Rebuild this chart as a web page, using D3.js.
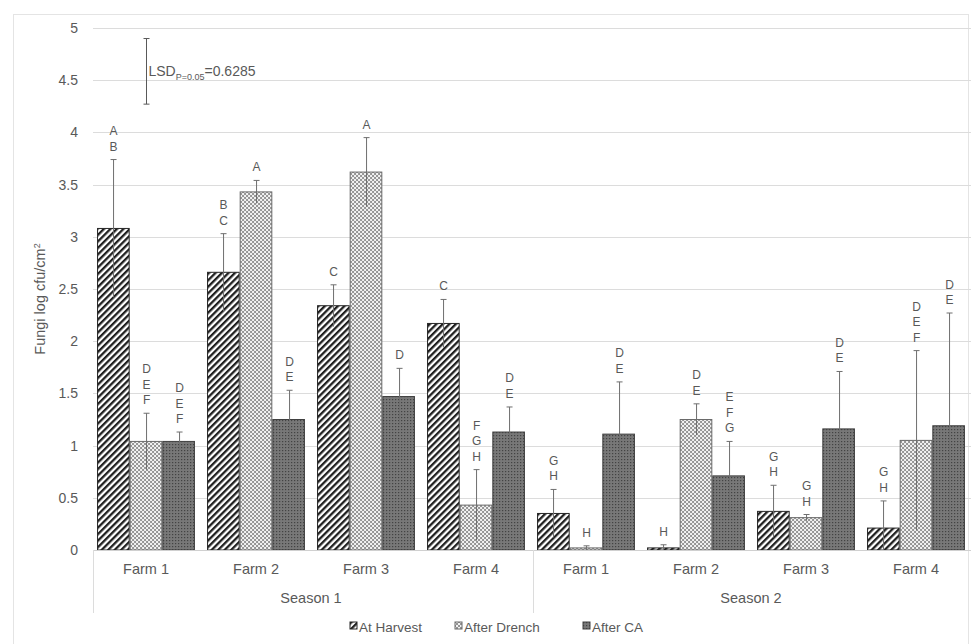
<!DOCTYPE html>
<html>
<head>
<meta charset="utf-8">
<script src="https://cdn.jsdelivr.net/npm/d3@7"></script>
<style>
  body { margin: 0; background: #fff; }
  text { font-family: "Liberation Sans", Arial, sans-serif; fill: #595959; }
</style>
</head>
<body>
<div id="chart"></div>
<script>
// chart data
var farms = ["Farm 1", "Farm 2", "Farm 3", "Farm 4"];
var seasons = ["Season 1", "Season 2"];
var treatments = ["At Harvest", "After Drench", "After CA"];

// means, Season 1 farms 1-4 then Season 2 farms 1-4
var atHarvest = [3.08, 2.66, 2.34, 2.17, 0.35, 0.02, 0.37, 0.21];
var afterDrench = [1.04, 3.43, 3.62, 0.43, 0.02, 1.25, 0.31, 1.05];
var afterCA = [1.04, 1.25, 1.47, 1.13, 1.11, 0.71, 1.16, 1.19];

// error bar half widths
var errHarvest = [0.66, 0.37, 0.20, 0.23, 0.23, 0.03, 0.25, 0.26];
var errDrench = [0.27, 0.11, 0.33, 0.34, 0.02, 0.15, 0.03, 0.86];
var errCA = [0.09, 0.28, 0.27, 0.24, 0.50, 0.33, 0.55, 1.08];

// significance letters
var lettersHarvest = ["AB", "BC", "C", "C", "GH", "H", "GH", "GH"];
var lettersDrench = ["DEF", "A", "A", "FGH", "H", "DE", "GH", "DEF"];
var lettersCA = ["DEF", "DE", "D", "DE", "DE", "EFG", "DE", "DE"];

var yTicks = [0, 0.5, 1, 1.5, 2, 2.5, 3, 3.5, 4, 4.5, 5];
var lsdValue = 0.6285;
var lsdCenter = 4.585;

var svgWidth = 971;
var svgHeight = 644;

var plot = { left: 91, right: 971, top: 28, bottom: 550 };

var svg = d3.select("#chart")
  .append("svg")
  .attr("width", svgWidth)
  .attr("height", svgHeight);

// build the categories (season x farm)
var categories = [];
seasons.forEach(function (s, si) {
  farms.forEach(function (f, fi) {
    var i = si * farms.length + fi;
    categories.push({
      id: i, farm: f, season: s,
      values: [atHarvest[i], afterDrench[i], afterCA[i]],
      errs: [errHarvest[i], errDrench[i], errCA[i]],
      letters: [lettersHarvest[i], lettersDrench[i], lettersCA[i]]
    });
  });
});

// patterns
var defs = svg.append("defs");

var p1 = defs.append("pattern")
  .attr("id", "patHarvest")
  .attr("patternUnits", "userSpaceOnUse")
  .attr("width", 4.6).attr("height", 4.6)
  .attr("patternTransform", "rotate(45)");
p1.append("rect").attr("width", 4.6).attr("height", 4.6).attr("fill", "#fff");
p1.append("rect").attr("width", 2.3).attr("height", 4.6).attr("fill", "#1f1f1f");

var p2 = defs.append("pattern")
  .attr("id", "patDrench")
  .attr("patternUnits", "userSpaceOnUse")
  .attr("width", 4).attr("height", 4);
p2.append("rect").attr("width", 4).attr("height", 4).attr("fill", "#f2f2f2");
p2.append("path").attr("d", "M0,0 L4,4 M4,0 L0,4")
  .attr("stroke", "#8a8a8a").attr("stroke-width", 0.9);

var p3 = defs.append("pattern")
  .attr("id", "patCA")
  .attr("patternUnits", "userSpaceOnUse")
  .attr("width", 3).attr("height", 3);
p3.append("rect").attr("width", 3).attr("height", 3).attr("fill", "#787878");
p3.append("rect").attr("width", 1.2).attr("height", 1.2).attr("fill", "#404040");

var fills = ["url(#patHarvest)", "url(#patDrench)", "url(#patCA)"];
var strokes = ["#262626", "#6a6a6a", "#404040"];

// outer chart frame
svg.append("rect")
  .attr("x", 13.5).attr("y", 14.5)
  .attr("width", 955).attr("height", 640)
  .attr("fill", "none")
  .attr("stroke", "#e4e4e4");

// scales
var x0 = d3.scaleBand()
  .domain(categories.map(function (d) { return d.id; }))
  .range([plot.left, plot.right])
  .paddingInner(0.11)
  .paddingOuter(0.055);

var x1 = d3.scaleBand()
  .domain(d3.range(treatments.length))
  .range([0, x0.bandwidth()]);

var y = d3.scaleLinear()
  .domain([0, 5])
  .range([plot.bottom, plot.top]);

// gridlines
svg.append("g")
  .selectAll("line")
  .data(yTicks.slice(1))
  .enter()
  .append("line")
  .attr("x1", plot.left + 2).attr("x2", plot.right)
  .attr("y1", function (d) { return Math.round(y(d)) + 0.5; })
  .attr("y2", function (d) { return Math.round(y(d)) + 0.5; })
  .attr("stroke", "#dcdcdc");

// y axis labels
var leftAxis = d3.axisLeft(y).tickValues(yTicks).tickFormat(d3.format("~g")).tickSize(0).tickPadding(13);
var yAxisG = svg.append("g")
  .attr("transform", "translate(" + plot.left + ",0)")
  .call(leftAxis);
yAxisG.select(".domain").remove();
yAxisG.selectAll("text")
  .style("font-family", "Liberation Sans, Arial, sans-serif")
  .style("font-size", "14px")
  .attr("fill", "#595959");

// bars
var groups = svg.append("g")
  .selectAll("g")
  .data(categories)
  .enter()
  .append("g")
  .attr("transform", function (d) { return "translate(" + x0(d.id) + ",0)"; });

var items = groups.selectAll("g.item")
  .data(function (d) {
    return d.values.map(function (v, k) {
      return { k: k, v: v, e: d.errs[k], letters: d.letters[k] };
    });
  })
  .enter()
  .append("g")
  .attr("class", "item");

items.append("rect")
  .attr("x", function (d) { return x1(d.k) + 0.5; })
  .attr("y", function (d) { return y(d.v); })
  .attr("width", x1.bandwidth() - 1)
  .attr("height", function (d) { return y(0) - y(d.v); })
  .attr("fill", function (d) { return fills[d.k]; })
  .attr("stroke", function (d) { return strokes[d.k]; })
  .attr("stroke-width", 1);

// error bars
var cx = function (d) { return Math.round(x1(d.k) + x1.bandwidth() / 2) + 0.5; };
items.append("line")
  .attr("x1", cx).attr("x2", cx)
  .attr("y1", function (d) { return y(d.v + d.e); })
  .attr("y2", function (d) { return y(Math.max(0, d.v - d.e)); })
  .attr("stroke", "#6f6f6f");
items.append("line")
  .attr("x1", function (d) { return cx(d) - 3; })
  .attr("x2", function (d) { return cx(d) + 3; })
  .attr("y1", function (d) { return y(d.v + d.e); })
  .attr("y2", function (d) { return y(d.v + d.e); })
  .attr("stroke", "#6f6f6f");

// letters, stacked vertically above the error bar
items.each(function (d) {
  var g = d3.select(this);
  var chars = d.letters.split("");
  var base = y(d.v + d.e) - 9;
  chars.forEach(function (c, j) {
    g.append("text")
      .attr("x", cx(d))
      .attr("y", base - (chars.length - 1 - j) * 15.5)
      .attr("text-anchor", "middle")
      .style("font-size", "12px")
      .text(c);
  });
});

// x axis line
svg.append("line")
  .attr("x1", plot.left + 2).attr("x2", plot.right)
  .attr("y1", plot.bottom + 0.5).attr("y2", plot.bottom + 0.5)
  .attr("stroke", "#d0d0d0");

// season separators
var step = x0.step();
var seasonEdges = [0, farms.length, categories.length].map(function (i) {
  return i < categories.length ? x0(i) - step * 0.055 : plot.right;
});
svg.append("g")
  .selectAll("line")
  .data(seasonEdges)
  .enter()
  .append("line")
  .attr("x1", function (d) { return Math.round(d) + 2.5; })
  .attr("x2", function (d) { return Math.round(d) + 2.5; })
  .attr("y1", plot.bottom)
  .attr("y2", 613)
  .attr("stroke", "#dcdcdc");

// farm labels
svg.append("g")
  .selectAll("text")
  .data(categories)
  .enter()
  .append("text")
  .attr("x", function (d) { return x0(d.id) + x0.bandwidth() / 2; })
  .attr("y", 574)
  .attr("text-anchor", "middle")
  .style("font-size", "14.5px")
  .text(function (d) { return d.farm; });

// season labels
svg.append("g")
  .selectAll("text")
  .data(seasons)
  .enter()
  .append("text")
  .attr("x", function (d, i) { return (seasonEdges[i] + seasonEdges[i + 1]) / 2; })
  .attr("y", 603)
  .attr("text-anchor", "middle")
  .style("font-size", "14.5px")
  .text(function (d) { return d; });

// y axis title
var titleY = (plot.top + plot.bottom) / 2 + 10;
var yTitle = svg.append("text")
  .attr("transform", "translate(45," + titleY + ") rotate(-90)")
  .attr("text-anchor", "middle")
  .style("font-size", "14.5px");
yTitle.append("tspan").text("Fungi log cfu/cm");
yTitle.append("tspan").attr("dy", -5).style("font-size", "9px").text("2");

// LSD bar
var lsdX = Math.round(x0(0) + x0.bandwidth() / 2) + 0.5;
var lsdTop = y(lsdCenter + lsdValue / 2);
var lsdBot = y(lsdCenter - lsdValue / 2);
svg.append("line")
  .attr("x1", lsdX).attr("x2", lsdX)
  .attr("y1", lsdTop).attr("y2", lsdBot)
  .attr("stroke", "#595959");
[lsdTop, lsdBot].forEach(function (yy) {
  svg.append("line")
    .attr("x1", lsdX - 3).attr("x2", lsdX + 3)
    .attr("y1", yy).attr("y2", yy)
    .attr("stroke", "#595959");
});
var lsdText = svg.append("text")
  .attr("x", lsdX + 2)
  .attr("y", y(lsdCenter) + 5)
  .style("font-size", "14px");
lsdText.append("tspan").text("LSD");
lsdText.append("tspan").attr("dy", 4).style("font-size", "9px").text("P=0.05");
lsdText.append("tspan").attr("dy", -4).text("=" + lsdValue);

// legend
var legendX = [350, 455, 583];
var legend = svg.append("g")
  .selectAll("g")
  .data(treatments)
  .enter()
  .append("g")
  .attr("transform", function (d, i) { return "translate(" + legendX[i] + ",622)"; });
legend.append("rect")
  .attr("width", 7).attr("height", 7)
  .attr("fill", function (d, i) { return fills[i]; })
  .attr("stroke", function (d, i) { return strokes[i]; });
legend.append("text")
  .attr("x", 9).attr("y", 10)
  .style("font-size", "13.5px")
  .text(function (d) { return d; });
</script>
</body>
</html>
